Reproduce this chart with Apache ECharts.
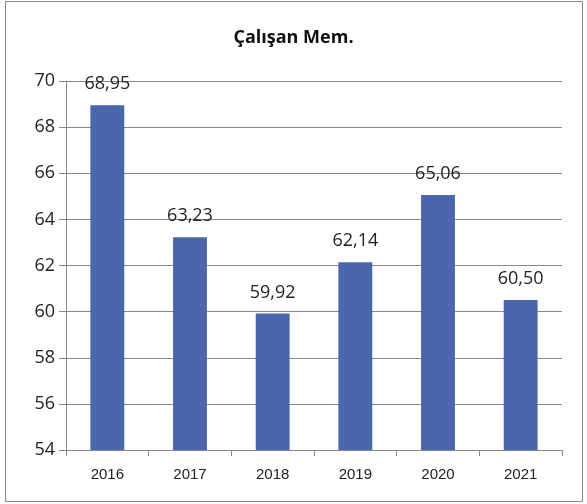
<!DOCTYPE html>
<html>
<head>
<meta charset="utf-8">
<script src="https://cdn.jsdelivr.net/npm/echarts@6/dist/echarts.min.js"></script>
<style>
  html, body { margin: 0; padding: 0; background: #fff; }
  #chart { width: 587px; height: 504px; }
</style>
</head>
<body>
<div id="chart"></div>
<script>
// data
const years = ['2016', '2017', '2018', '2019', '2020', '2021']
const values = [68.95, 63.23, 59.92, 62.14, 65.06, 60.50]
const yMin = 54
const yMax = 70
const yStep = 2

const chart = echarts.init(document.getElementById('chart'))

const option = {
  animation: false,
  title: {
    text: 'Çalışan Mem.',
    left: 'center',
    top: 24,
    textStyle: { fontFamily: 'Open Sans', fontSize: 18, fontWeight: 'bold', color: '#111' }
  },
  grid: { left: 66, right: 25, top: 81, bottom: 54 },
  graphic: [{
    type: 'rect',
    shape: { x: 5.5, y: 1.5, width: 577, height: 500 },
    style: { fill: 'none', stroke: '#8a8a8a', lineWidth: 1 },
    silent: true
  }],
  xAxis: {
    type: 'category',
    data: years,
    axisLine: { show: true, lineStyle: { color: '#888' } },
    axisTick: { show: true, alignWithLabel: false, length: 6, lineStyle: { color: '#888' } },
    axisLabel: { color: '#222', fontSize: 15, fontFamily: 'Liberation Sans', margin: 17 }
  },
  yAxis: {
    type: 'value',
    min: yMin,
    max: yMax,
    interval: yStep,
    axisLine: { show: true, lineStyle: { color: '#888' } },
    axisTick: { show: true, length: 7, lineStyle: { color: '#888' } },
    splitLine: { show: true, lineStyle: { color: '#888', width: 1 } },
    axisLabel: { color: '#222', fontSize: 18, fontFamily: 'Open Sans', margin: 11 }
  },
  series: [{
    type: 'bar',
    data: values,
    barWidth: '41%',
    itemStyle: { color: '#4a66ad' },
    label: {
      show: true,
      position: 'top',
      distance: 12,
      color: '#222',
      fontSize: 18,
      fontFamily: 'Open Sans',
      formatter: p => p.value.toFixed(2).replace('.', ',')
    }
  }]
}

chart.setOption(option)
</script>
</body>
</html>
